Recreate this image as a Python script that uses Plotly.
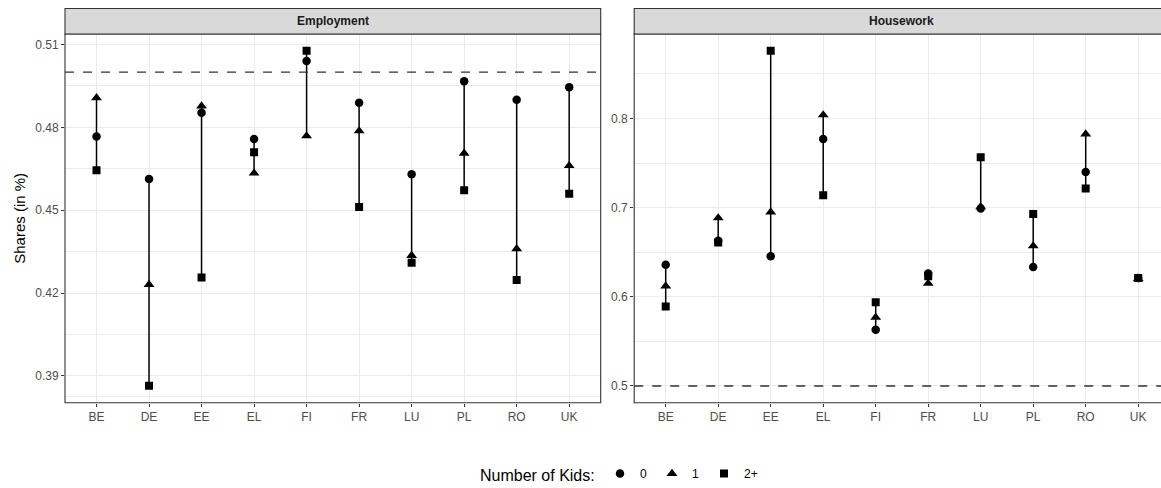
import plotly.graph_objects as go

countries = ["BE", "DE", "EE", "EL", "FI", "FR", "LU", "PL", "RO", "UK"]

# Employment shares
emp_k0 = [0.4767, 0.4613, 0.4853, 0.4758, 0.5040, 0.4889, 0.4630, 0.4967, 0.4900, 0.4945]
emp_k1 = [0.4907, 0.4231, 0.4877, 0.4634, 0.4769, 0.4787, 0.4336, 0.4706, 0.4360, 0.4661]
emp_k2 = [0.4645, 0.3864, 0.4256, 0.4710, 0.5077, 0.4512, 0.4310, 0.4572, 0.4247, 0.4560]

# Housework shares
hw_k0 = [0.636, 0.663, 0.6455, 0.777, 0.563, 0.626, 0.699, 0.6335, 0.740, 0.621]
hw_k1 = [0.612, 0.6885, 0.695, 0.804, 0.577, 0.615, 0.701, 0.657, 0.7825, 0.620]
hw_k2 = [0.589, 0.661, 0.876, 0.714, 0.594, 0.623, 0.7565, 0.693, 0.7216, 0.621]

kid_labels = ["0", "1", "2+"]
symbols = ["circle", "triangle-up", "square"]
parity = 0.5

W, H = 1161, 488
FONT = "Liberation Sans, Arial, sans-serif"

def px_x(p):
    return p / W

def px_y(p):
    return 1 - p / H

fig = go.Figure()

panels = [
    ("x", "y", [emp_k0, emp_k1, emp_k2]),
    ("x2", "y2", [hw_k0, hw_k1, hw_k2]),
]

idx = list(range(len(countries)))
for pi, (xa, ya, series) in enumerate(panels):
    lx, ly = [], []
    for i in idx:
        vals = [s[i] for s in series]
        lx += [i, i, None]
        ly += [min(vals), max(vals), None]
    fig.add_trace(go.Scatter(x=lx, y=ly, mode="lines", xaxis=xa, yaxis=ya,
                             line=dict(color="black", width=1.5),
                             showlegend=False, hoverinfo="skip"))
    for k, s in enumerate(series):
        fig.add_trace(go.Scatter(
            x=idx, y=s, mode="markers", xaxis=xa, yaxis=ya,
            name=kid_labels[k], legendgroup=kid_labels[k], showlegend=(pi == 0),
            marker=dict(symbol=symbols[k], color="black",
                        size=[8.5, 9.5, 8][k], line=dict(width=0))))

# panel geometry (pixels)
top, bottom = 34, 402.7
L1, R1 = 65, 600.7
L2 = 634.2
STEP = 52.5
ydom = [px_y(bottom), px_y(top)]

axis_common = dict(
    showline=False, ticks="outside", ticklen=3, tickcolor="#333333", tickwidth=1,
    tickfont=dict(family=FONT, size=12, color="#4D4D4D"),
    gridcolor="#EBEBEB", gridwidth=1.1, zeroline=False, automargin=False,
)

fig.update_layout(
    xaxis=dict(domain=[px_x(L1), px_x(R1)], anchor="y", range=[-0.6, 9.6],
               tickvals=idx, ticktext=countries, **axis_common),
    yaxis=dict(domain=ydom, anchor="x", range=[0.3803, 0.5138],
               tickvals=[0.39, 0.42, 0.45, 0.48, 0.51],
               ticktext=["0.39", "0.42", "0.45", "0.48", "0.51"],
               minor=dict(tickvals=[0.3825, 0.405, 0.435, 0.465, 0.495], showgrid=True,
                          gridcolor="#EBEBEB", gridwidth=0.6, ticks=""),
               title=dict(text="Shares (in %)", standoff=5,
                          font=dict(family=FONT, size=15, color="black")),
               **axis_common),
    xaxis2=dict(domain=[px_x(L2), 1.0], anchor="y2",
                range=[-0.6, 9.6 - (L2 + 10.2 * STEP - W) / STEP],
                tickvals=idx, ticktext=countries, **axis_common),
    yaxis2=dict(domain=ydom, anchor="x2", range=[0.4812, 0.8948],
                tickvals=[0.5, 0.6, 0.7, 0.8], ticktext=["0.5", "0.6", "0.7", "0.8"],
                minor=dict(tickvals=[0.55, 0.65, 0.75, 0.85], showgrid=True,
                           gridcolor="#EBEBEB", gridwidth=0.6, ticks=""),
                **axis_common),
)

shapes = []
# dashed reference lines
for xa, ya in [("x", "y"), ("x2", "y2")]:
    shapes.append(dict(type="line", xref=f"{xa} domain", yref=ya, x0=0, x1=1,
                       y0=parity, y1=parity,
                       line=dict(color="#333333", width=1.4, dash="dash")))
# panel borders and strips
strip_top = 8.5
for (l, r, title) in [(L1, R1, "Employment"), (L2, L2 + 10.2 * STEP, "Housework")]:
    shapes.append(dict(type="rect", xref="paper", yref="paper",
                       x0=px_x(l), x1=px_x(r), y0=px_y(bottom), y1=px_y(top),
                       line=dict(color="#333333", width=1.1), fillcolor="rgba(0,0,0,0)",
                       layer="above"))
    shapes.append(dict(type="rect", xref="paper", yref="paper",
                       x0=px_x(l), x1=px_x(r), y0=px_y(top), y1=px_y(strip_top),
                       line=dict(color="#333333", width=1.1), fillcolor="#D9D9D9"))
    fig.add_annotation(xref="paper", yref="paper",
                       x=px_x((l + r) / 2), y=px_y((top + strip_top) / 2),
                       text="<b>" + title + "</b>", showarrow=False,
                       font=dict(family=FONT, size=12, color="#1A1A1A"),
                       xanchor="center", yanchor="middle")

# legend title as annotation
fig.add_annotation(xref="paper", yref="paper", x=px_x(597), y=px_y(475),
                   text="Number of Kids:", showarrow=False,
                   font=dict(family=FONT, size=16, color="black"),
                   xanchor="right", yanchor="middle")

fig.update_layout(
    shapes=shapes,
    width=W, height=H,
    margin=dict(l=0, r=0, t=0, b=0),
    paper_bgcolor="white", plot_bgcolor="white",
    showlegend=True,
    legend=dict(orientation="h", x=px_x(600), xanchor="left",
                y=0, yanchor="bottom", tracegroupgap=0,
                font=dict(family=FONT, size=12, color="black"),
                itemwidth=30, bgcolor="rgba(0,0,0,0)"),
)

fig.write_html("out.html", config={"displayModeBar": False},
               post_script="document.body.style.margin='0';document.body.style.overflow='hidden';")
